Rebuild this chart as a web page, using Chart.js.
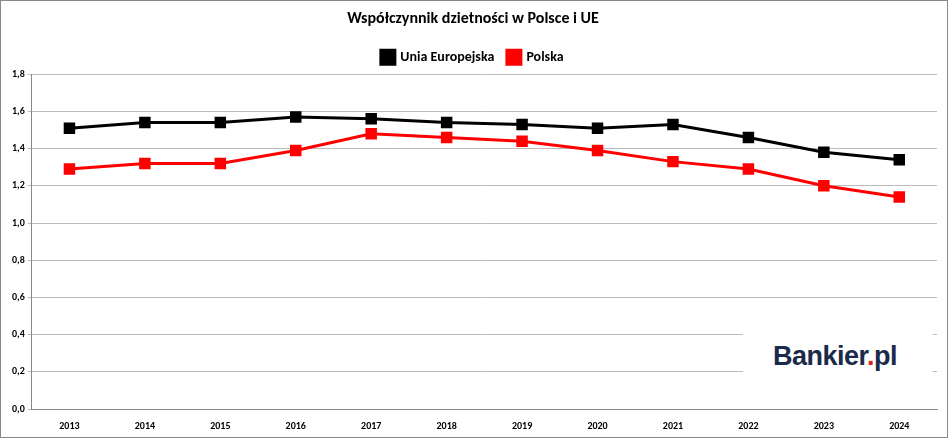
<!DOCTYPE html>
<html><head><meta charset="utf-8">
<script src="https://cdn.jsdelivr.net/npm/chart.js@4"></script>
<style>
body{margin:0;background:#fff;}
#wrap{position:absolute;left:0;top:0;width:946px;height:436px;border:1px solid #888;}
#logo{position:absolute;left:742px;top:332px;width:190px;height:46px;background:#fff;font-family:"Liberation Sans",sans-serif;font-weight:bold;font-size:27px;color:#1a2a4a;padding:8px 0 0 30px;box-sizing:border-box;letter-spacing:-0.5px;}
#logo span{color:#e02020;}
</style></head><body>
<div id="wrap"><canvas id="c" width="946" height="436"></canvas>
<div id="logo">Bankier<span>.</span>pl</div></div>
<script>
var years=["2013","2014","2015","2016","2017","2018","2019","2020","2021","2022","2023","2024"];
var ue=[1.51,1.54,1.54,1.57,1.56,1.54,1.53,1.51,1.53,1.46,1.38,1.34];
var polska=[1.29,1.32,1.32,1.39,1.48,1.46,1.44,1.39,1.33,1.29,1.20,1.14];
var font="Calibri, Carlito, 'Liberation Sans', sans-serif";
new Chart(document.getElementById("c"),{
  type:"line",
  data:{labels:years,datasets:[
    {label:"Unia Europejska",data:ue,borderColor:"#000",backgroundColor:"#000",borderWidth:3,pointStyle:"rect",pointRadius:6,pointHoverRadius:6},
    {label:"Polska",data:polska,borderColor:"#ff0000",backgroundColor:"#ff0000",borderWidth:3,pointStyle:"rect",pointRadius:6,pointHoverRadius:6}
  ]},
  options:{responsive:false,animation:false,
    layout:{padding:{left:8,right:10,bottom:2}},
    plugins:{
      title:{display:true,text:"Współczynnik dzietności w Polsce i UE",color:"#000",font:{family:font,size:16,weight:"bold"},padding:{top:8,bottom:8}},
      legend:{labels:{usePointStyle:true,pointStyle:"rect",color:"#000",font:{family:font,size:14,weight:"bold"},boxWidth:11,padding:14}},
      tooltip:{enabled:false}
    },
    scales:{
      x:{offset:true,grid:{display:false},border:{color:"#888"},ticks:{color:"#000",font:{family:font,size:10,weight:"bold"}}},
      y:{min:0,max:1.8,border:{color:"#888"},grid:{color:"#bbb",drawTicks:true,tickLength:4},
        ticks:{stepSize:0.2,color:"#000",font:{family:font,size:10,weight:"bold"},callback:function(v){return v.toFixed(1).replace(".",",");}}}
    }
  }
});
</script></body></html>
